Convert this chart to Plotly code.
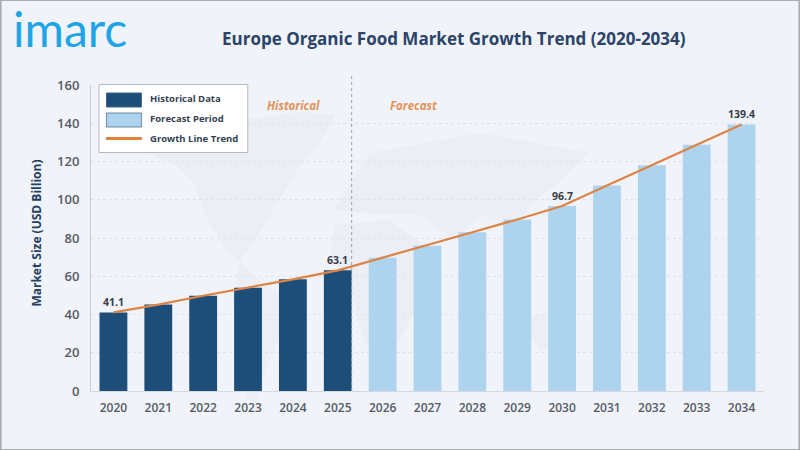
import plotly.graph_objects as go

years = ['2020', '2021', '2022', '2023', '2024', '2025', '2026', '2027',
         '2028', '2029', '2030', '2031', '2032', '2033', '2034']
market_size = [41.1, 45.2, 49.8, 54.0, 58.4, 63.1, 69.7, 76.0,
               83.0, 89.7, 96.7, 107.5, 118.0, 128.7, 139.4]
labelled_years = ['2020', '2025', '2030', '2034']
y_ticks = [0, 20, 40, 60, 80, 100, 120, 140, 160]

DARK = '#1d4e79'
LIGHT = '#aed3ee'
ORANGE = '#dd8444'
BG = '#f0f3f9'
MAP = '#ebeef4'
W, H = 800, 450
LEFT, RIGHT, TOP, BOTTOM = 90.5, 764.5, 85, 391

# rough faint world map behind the chart, in page pixels
north_america = [(147, 152), (170, 130), (230, 122), (300, 112), (335, 115), (318, 145), (300, 165), (285, 190),
                 (270, 215), (255, 240), (240, 262), (225, 250), (205, 215), (195, 185), (175, 165)]
south_america = [(240, 262), (265, 285), (290, 300), (280, 335), (265, 370), (255, 405), (247, 400), (243, 350),
                 (232, 300)]
eurasia = [(333, 210), (370, 153), (480, 133), (590, 153), (565, 177), (533, 203), (517, 227), (480, 215),
           (455, 240), (420, 215), (385, 215)]
africa = [(335, 225), (390, 220), (430, 250), (420, 300), (400, 340), (375, 365), (360, 330), (350, 280), (330, 260)]
australia = [(520, 320), (560, 310), (575, 340), (540, 350)]


def px(x):
    return (x - LEFT) / (RIGHT - LEFT)


def py(y):
    return (BOTTOM - y) / (BOTTOM - TOP)


def box(x0, y0, x1, y1, fill, line=None, width=1):
    return dict(type='rect', xref='paper', yref='paper', layer='above',
                x0=px(x0), x1=px(x1), y0=py(y0), y1=py(y1), fillcolor=fill,
                line=dict(color=line or fill, width=width))


def blob(points):
    path = 'M ' + ' L '.join('%.4f %.4f' % (px(x), py(y)) for x, y in points) + ' Z'
    return dict(type='path', xref='paper', yref='paper', layer='below', path=path,
                fillcolor=MAP, line_width=0)


def note(x, y, text, size, color, bold=True, italic=False, anchor='left', angle=0, family='Open Sans'):
    if bold:
        text = '<b>' + text + '</b>'
    if italic:
        text = '<i>' + text + '</i>'
    return dict(xref='paper', yref='paper', x=px(x), y=py(y), text=text, showarrow=False,
                xanchor=anchor, yanchor='middle', textangle=angle,
                font=dict(size=size, color=color, family=family))


colors = [DARK if int(y) <= 2025 else LIGHT for y in years]

fig = go.Figure()
fig.add_trace(go.Bar(x=years, y=market_size, marker=dict(color=colors, line_width=0), width=0.62))
fig.add_trace(go.Scatter(x=years, y=market_size, mode='lines', line=dict(color=ORANGE, width=2.2)))

annotations = [
    note(454, 38, 'Europe Organic Food Market Growth Trend (2020-2034)', 17, '#2b4468', anchor='center'),
    note(10, 28, 'imarc', 48, '#1fa5e6', bold=False, family='Lato'),
    note(148, 98.5, 'Historical Data', 9.5, '#333f50'),
    note(148, 118.5, 'Forecast Period', 9.5, '#333f50'),
    note(148, 138, 'Growth Line Trend', 9.5, '#333f50'),
    note(293, 105, 'Historical', 11.5, '#e0935a', italic=True, anchor='center'),
    note(413, 105, 'Forecast', 11.5, '#e0935a', italic=True, anchor='center'),
    note(36, 233, 'Market Size (USD Billion)', 12, '#24405f', anchor='center', angle=-90),
]
for yr in labelled_years:
    i = years.index(yr)
    annotations.append(dict(xref='x', yref='y', x=i, y=market_size[i], text='<b>%.1f</b>' % market_size[i],
                            showarrow=False, yanchor='bottom', yshift=1,
                            font=dict(size=10.5, color='#3a3f4a', family='Open Sans')))

shapes = [blob(north_america), blob(south_america), blob(eurasia), blob(africa), blob(australia)]
shapes += [
    # divider between historical and forecast, on the right edge of the 2025 bar
    dict(type='line', xref='x', yref='paper', x0=5.31, x1=5.31, y0=0, y1=1.035,
         line=dict(color='#9aa1ac', width=1, dash='dot')),
    # legend
    box(98.5, 84.5, 247.5, 152.5, 'white', '#b4b8bf'),
    box(106, 93, 141, 107, DARK, '#3f6488'),
    box(106, 113, 141, 127, LIGHT, '#6f8ba5'),
    box(106, 137.5, 141, 139.5, ORANGE),
    # picture frame
    dict(type='rect', xref='paper', yref='paper', x0=px(0), x1=px(W), y0=py(H), y1=py(0),
         line=dict(color='#a9abae', width=2), fillcolor='rgba(0,0,0,0)'),
]

fig.update_layout(
    width=W, height=H, autosize=False,
    margin=dict(l=LEFT, r=W - RIGHT, t=TOP, b=H - BOTTOM),
    paper_bgcolor=BG, plot_bgcolor='rgba(0,0,0,0)',
    showlegend=False,
    shapes=shapes,
    annotations=annotations,
    xaxis=dict(type='category', range=[-0.5, 14.5], tickvals=years,
               tickfont=dict(size=12, color='#555b66', family='Open Sans', weight=600),
               ticks='', showgrid=False, showline=True, linecolor='#d5d8dd', ticklabelstandoff=6),
    yaxis=dict(range=[0, 160], tickvals=y_ticks,
               tickfont=dict(size=13, color='#555b66', family='Open Sans', weight=600),
               ticks='', showgrid=True, gridcolor='#dfe2e8', griddash='dot', gridwidth=1,
               showline=True, linecolor='#c8ccd2', zeroline=False, ticklabelstandoff=8),
)

fig.write_html("out.html", config={'displayModeBar': False},
               post_script="document.body.style.margin = '0';")
